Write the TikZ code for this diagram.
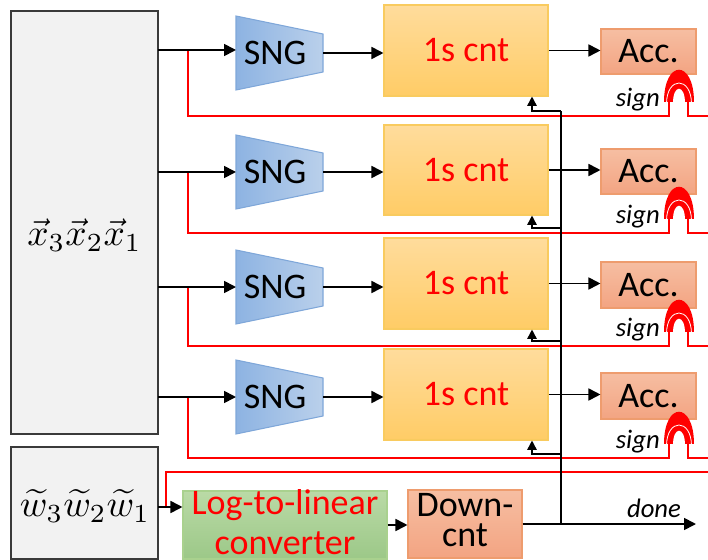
\documentclass[tikz,border=0pt]{standalone}
\usepackage{graphicx}
\usepackage{fontspec}
\setmainfont{Carlito}
\usetikzlibrary{arrows.meta,fit}

\definecolor{regfill}{HTML}{F2F2F2}
\definecolor{regedge}{HTML}{3A3A3A}
\definecolor{sngleft}{HTML}{8DB3E2}
\definecolor{sngright}{HTML}{BAD0EB}
\definecolor{sngedge}{HTML}{7FA7D9}
\definecolor{cnttop}{HTML}{FFDC9C}
\definecolor{cntbot}{HTML}{FFCC66}
\definecolor{cntedge}{HTML}{F9CB5F}
\definecolor{acctop}{HTML}{F6BEA2}
\definecolor{accbot}{HTML}{F3A482}
\definecolor{accedge}{HTML}{EE9C6E}
\definecolor{logtop}{HTML}{BADAA6}
\definecolor{logbot}{HTML}{9CC888}
\definecolor{logedge}{HTML}{A9D18E}
\definecolor{sigred}{HTML}{FF0000}

\begin{document}
\begin{tikzpicture}[x=0.75pt,y=-0.75pt,
  bigfont/.style={font=\fontsize{27}{30}\selectfont},
  ln/.style={black,line width=1.3pt},
  arr/.style={ln,-{Triangle[length=9pt,width=9pt]}},
  fbarr/.style={black,line width=1.2pt,-{Triangle[length=7pt,width=7pt]}},
  redln/.style={sigred,line width=1.4pt},
  regbox/.style={draw=regedge,fill=regfill,line width=1.5pt,inner sep=0pt},
  sngshape/.style={draw=sngedge,line width=0.8pt,left color=sngleft,right color=sngright},
  txt/.style={bigfont,inner sep=0pt},
  cntbox/.style={draw=cntedge,line width=0.8pt,top color=cnttop,bottom color=cntbot,inner sep=0pt},
  accbox/.style={draw=accedge,line width=0.8pt,top color=acctop,bottom color=accbot,inner sep=0pt},
  logbox/.style={draw=logedge,line width=0.8pt,top color=logtop,bottom color=logbot,inner sep=0pt},
  labtext/.style={font=\fontsize{20}{22}\selectfont\itshape,inner sep=0pt},
]
\useasboundingbox (0,0) rectangle (708,560);

% input registers
\node[regbox,fit={(11,11)(158,434)}] (xin) {};
\node[inner sep=0pt] (xlbl) at (84.5,235) {\scalebox{2.8}{$\vec{x}_3\vec{x}_2\vec{x}_1$}};
\node[regbox,fit={(11,447)(158,559)}] (win) {};
\node[inner sep=0pt] (wlbl) at (85,506) {\scalebox{2.8}{$\widetilde{w}_3\widetilde{w}_2\widetilde{w}_1$}};

% four lanes: SNG -> 1s counter -> accumulator, sign line below each lane
\foreach \k/\yi/\ys/\ct/\cb/\at/\ab/\yr/\fb in {
  1/50/53/5/96/29/74/116/111,
  2/172/172/125/215/149/194/233/228,
  3/287/287/238/329/262/308/346/341,
  4/397/397/349/440/373/419/458/454}
{
  \coordinate (tap\k) at (158,\yi);
  \coordinate (br\k) at (188,\yi);
  \coordinate (sngin\k) at (236,\yi);
  \coordinate (sngout\k) at (323,\ys);
  \path[sngshape] (236,\ys-37) -- (323,\ys-19) -- (323,\ys+19) -- (236,\ys+37) -- cycle;
  \node[txt] (sng\k) at (275,\ys) {SNG};
  \node[cntbox,fit={(384,\ct)(548,\cb)}] (cnt\k) {};
  \node[txt,text=sigred] (cntlbl\k) at (cnt\k.center) {1s cnt};
  \node[accbox,fit={(601,\at)(696,\ab)}] (acc\k) {};
  \node[txt] (acclbl\k) at (acc\k.center) {Acc.};

  % sign wire with the bridge into the accumulator
  \coordinate (hopL\k) at (669,\yr);
  \coordinate (hopR\k) at (688,\yr);
  \coordinate (rend\k) at (708,\yr);
  \draw[redln] (br\k) |- (hopL\k) -- ++(0,-18);
  \draw[redln] (hopR\k) ++(0,-18) -- (hopR\k) -- (rend\k);
  \fill[sigred] (664,\yr-14) .. controls (664,\yr-57) and (694,\yr-57) .. (694,\yr-14) -- cycle;
  \draw[white,line width=0.6pt] (666.5,\yr-12) .. controls (666.5,\yr-40) and (691.5,\yr-40) .. (691.5,\yr-12);
  \fill[white] (673,\yr-13) .. controls (673,\yr-32) and (685,\yr-32) .. (685,\yr-13) -- cycle;
  \node[labtext,anchor=east] (sign\k) at (660,\yr-16) {sign};

  \draw[arr] (tap\k) -- (sngin\k);
  \draw[arr] (sngout\k) -- (sngout\k -| cnt\k.west);
  \draw[arr] (cnt\k.east) -- (cnt\k.east -| acc\k.west);

  % done feedback into the counter
  \coordinate (fb\k) at (561,\fb);
  \coordinate (fbc\k) at (532,\fb);
  \draw[fbarr] (fb\k) -- (fbc\k) -- (fbc\k |- cnt\k.south);
}

% weight path
\node[logbox,fit={(183,491)(387,559)}] (l2l) {};
\node[txt,text=sigred,align=center] (l2llbl) at (285,522) {Log-to-linear\\converter};
\node[accbox,fit={(408,490)(522,558)}] (dcnt) {};
\node[txt,align=center,font=\fontsize{27}{22.5}\selectfont] (dcntlbl) at (465,520) {Down-\\cnt};

\coordinate (wtap) at (158,507);
\coordinate (wbr) at (166,507);
\coordinate (wend) at (708,472);
\draw[redln] (wbr) |- (wend);
\draw[arr] (wtap) -- (wtap -| l2l.west);
\draw[arr] (l2l.east) -- (l2l.east -| dcnt.west);

\coordinate (busj) at (561,524);
\coordinate (doneend) at (696,524);
\draw[arr] (dcnt.east) -- (doneend);
\draw[ln] (busj) -- (fb1);
\node[labtext] (donelbl) at (654,508) {done};
\end{tikzpicture}
\end{document}
